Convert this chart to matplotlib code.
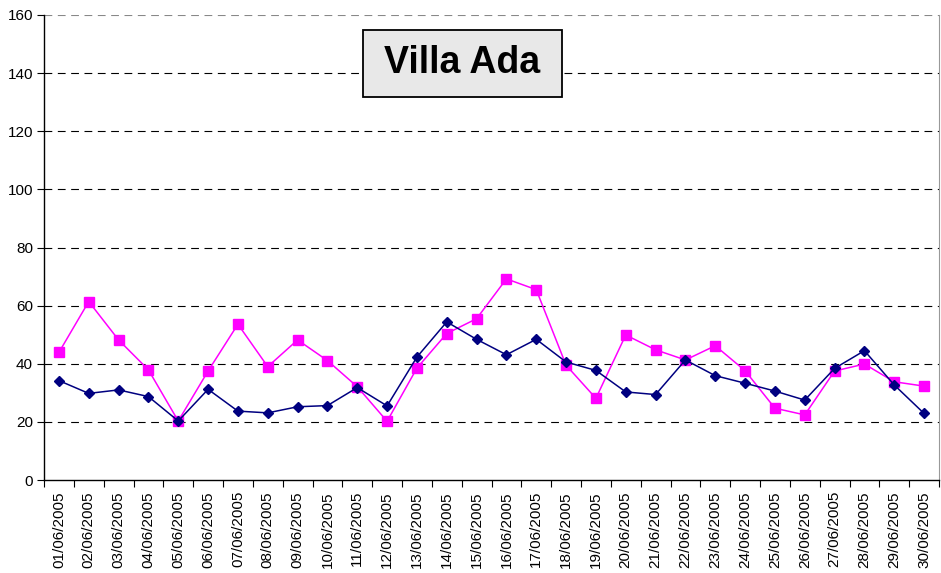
import matplotlib
matplotlib.use("Agg")
import matplotlib.pyplot as plt
from matplotlib.ticker import FixedLocator
from matplotlib.patches import Rectangle

plt.rcParams['font.family'] = ['Liberation Sans', 'DejaVu Sans']

dates = [f"{d:02d}/06/2005" for d in range(1, 31)]
series_blue = [34.2, 29.8, 31.0, 28.7, 20.3, 31.2, 23.7, 23.1, 25.2, 25.6,
               31.8, 25.5, 42.3, 54.4, 48.4, 43.1, 48.4, 40.6, 37.7, 30.3,
               29.4, 41.3, 35.9, 33.3, 30.6, 27.5, 38.4, 44.5, 32.7, 22.9]
series_pink = [43.9, 61.4, 48.2, 37.9, 20.3, 37.5, 53.6, 39.0, 48.2, 41.1,
               32.1, 20.2, 38.5, 50.4, 55.5, 69.2, 65.5, 39.5, 28.1, 49.9,
               44.8, 41.3, 46.2, 37.6, 24.7, 22.4, 37.5, 39.9, 33.8, 32.3]
yticks = [0, 20, 40, 60, 80, 100, 120, 140, 160]
title = "Villa Ada"

W, H = 941, 573
fig = plt.figure(figsize=(W / 100, H / 100), dpi=100)
ax = fig.add_axes([44 / W, (H - 480) / H, (939 - 44) / W, (480 - 15) / H])

x = list(range(len(dates)))
ax.plot(x, series_pink, color='#ff00ff', lw=1.1, marker='s', ms=6.5,
        markeredgecolor='#ff00ff', zorder=3)
ax.plot(x, series_blue, color='#000080', lw=1.1, marker='D', ms=5,
        markeredgecolor='#000080', zorder=4)

ax.set_xlim(-0.5, len(dates) - 0.5)
ax.set_ylim(0, 160)
ax.set_yticks(yticks)
ax.set_yticklabels([str(v) for v in yticks], fontsize=11)
for v in yticks[1:]:
    ax.axhline(v, color='black' if v < 160 else '#888888', lw=0.8,
               dashes=(7, 5), zorder=1)

ax.set_xticks(x)
ax.set_xticklabels(dates, rotation=90, fontsize=11)
ax.tick_params(axis='x', which='major', length=0, pad=8)
ax.xaxis.set_minor_locator(FixedLocator([i - 0.5 for i in range(len(dates) + 1)]))
ax.tick_params(axis='x', which='minor', length=5, width=0.8, direction='out')
ax.tick_params(axis='y', length=5, width=0.8, direction='out', pad=3)

ax.spines['top'].set_visible(False)
ax.spines['right'].set_color('#999999')
ax.spines['left'].set_linewidth(1.0)
ax.spines['bottom'].set_linewidth(1.0)

bx0, bx1, by0, by1 = 363, 562, 30, 97
fig.patches.append(Rectangle((bx0 / W, 1 - by1 / H), (bx1 - bx0) / W,
                             (by1 - by0) / H, transform=fig.transFigure,
                             facecolor='#e8e8e8', edgecolor='black', lw=1.3,
                             zorder=5))
fig.text((bx0 + bx1) / 2 / W, 1 - (by0 + by1) / 2 / H, title, ha='center',
         va='center', fontsize=27, fontweight='bold', zorder=6)

fig.savefig('out.png', dpi=100)
